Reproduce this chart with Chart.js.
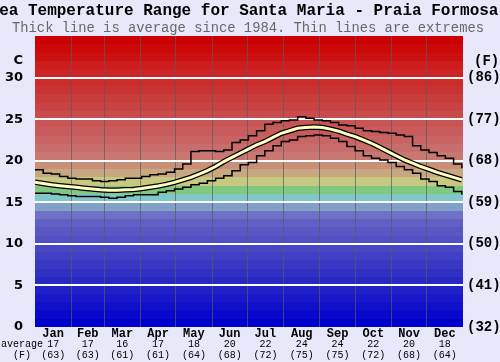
<!DOCTYPE html>
<html>
<head>
<meta charset="utf-8">
<script src="https://cdn.jsdelivr.net/npm/chart.js@4"></script>
<style>
  body { margin: 0; background: #e8e8fa; }
  #wrap { width: 500px; height: 362px; }
</style>
</head>
<body>
<div id="wrap"><canvas id="seaChart" width="500" height="362"></canvas></div>
<script>
// day of year for each weekly reading
const days = [0, 7, 14, 21, 28, 35, 42, 49, 56, 63, 70, 77, 84, 91, 98, 105, 112, 119, 126, 133, 140, 147, 154, 161, 168, 175, 182, 189, 196, 203, 210, 217, 224, 231, 238, 245, 252, 259, 266, 273, 280, 287, 294, 301, 308, 315, 322, 329, 336, 343, 350, 357, 364];
const avgTemp = [17.4, 17.25, 17.1, 17.0, 16.9, 16.8, 16.7, 16.6, 16.5, 16.45, 16.45, 16.5, 16.55, 16.65, 16.8, 16.95, 17.15, 17.4, 17.7, 18.0, 18.4, 18.8, 19.3, 19.9, 20.4, 20.9, 21.4, 21.9, 22.3, 22.8, 23.3, 23.6, 23.9, 24.0, 24.05, 24.0, 23.8, 23.55, 23.2, 22.9, 22.5, 22.1, 21.6, 21.1, 20.6, 20.1, 19.7, 19.3, 18.95, 18.6, 18.3, 18.0, 17.7];
const maxTemp = [18.9, 18.5, 18.4, 18.1, 17.9, 17.8, 17.8, 17.6, 17.5, 17.6, 17.7, 17.9, 17.9, 18.1, 18.3, 18.4, 18.6, 19.0, 19.6, 21.1, 21.2, 21.2, 21.1, 21.3, 22.2, 22.5, 23.0, 23.6, 24.4, 24.6, 24.8, 24.9, 25.3, 25.1, 24.9, 24.8, 24.6, 24.3, 24.2, 23.9, 23.6, 23.5, 23.4, 23.3, 23.1, 22.9, 21.8, 21.3, 21.0, 20.6, 20.3, 19.6, 19.1];
const minTemp = [16.1, 16.1, 16.0, 15.9, 15.8, 15.7, 15.7, 15.7, 15.6, 15.5, 15.6, 15.8, 15.9, 15.9, 15.9, 16.2, 16.4, 16.6, 16.8, 17.1, 17.3, 17.6, 17.9, 18.2, 18.8, 19.5, 19.8, 20.6, 21.2, 21.8, 22.3, 22.5, 22.9, 23.0, 23.1, 23.0, 22.7, 22.3, 21.7, 21.2, 20.6, 20.3, 20.1, 19.8, 19.3, 18.9, 18.5, 17.8, 17.5, 17.0, 16.8, 16.3, 15.9];

const months = ['Jan', 'Feb', 'Mar', 'Apr', 'May', 'Jun', 'Jul', 'Aug', 'Sep', 'Oct', 'Nov', 'Dec'];
const monthStart = [0, 31, 59, 90, 120, 151, 181, 212, 243, 273, 304, 334, 365];
const monthAvgC = [17, 17, 16, 17, 18, 20, 22, 24, 24, 22, 20, 18];
const monthAvgF = [63, 63, 61, 61, 64, 68, 72, 75, 75, 72, 68, 64];
const yTicks = [0, 5, 10, 15, 20, 25, 30];

// one colour per 1 degree band, 0 -> 35
const bandColors = ['#0000cc', '#0808cc', '#1010ca', '#1818c8', '#2020c8', '#2828c4', '#3030c4', '#3838c4', '#4040c4', '#4848c4',
  '#5050c4', '#5858c4', '#6060c4', '#7070c4', '#80a0c8', '#80c8c8', '#80c880', '#c8c880', '#c8a880', '#c89078',
  '#c87870', '#c86c6c', '#c86464', '#c85c5c', '#c85454', '#c84c4c', '#c84444', '#c83c3c', '#c83434', '#cc2c2c',
  '#cc2424', '#cc1c1c', '#cc1010', '#cc0808', '#cc0000'];

const pts = arr => arr.map((v, i) => ({ x: days[i], y: v }));

const bands = {
  id: 'bands',
  beforeDraw(chart) {
    const { ctx, chartArea: a, scales: { y } } = chart;
    ctx.save();
    bandColors.forEach((c, i) => {
      const top = Math.round(y.getPixelForValue(i + 1));
      const bot = Math.round(y.getPixelForValue(i));
      ctx.fillStyle = c;
      ctx.fillRect(a.left, top, a.right - a.left, bot - top);
    });
    ctx.restore();
  }
};

const texts = {
  id: 'texts',
  afterDraw(chart) {
    const { ctx, scales: { x } } = chart;
    ctx.save();
    ctx.textAlign = 'center';
    ctx.textBaseline = 'middle';
    ctx.fillStyle = '#000';
    ctx.font = 'bold 16px "Liberation Mono"';
    ctx.fillText('Sea Temperature Range for Santa Maria - Praia Formosa', 244, 11);
    ctx.fillStyle = '#686868';
    ctx.font = '13.8px "Liberation Mono"';
    ctx.fillText('Thick line is average since 1984. Thin lines are extremes', 248, 28);

    ctx.fillStyle = '#000';
    ctx.font = 'bold 13px "DejaVu Sans"';
    ctx.textAlign = 'right';
    ctx.fillText('C', 23, 61);
    ctx.font = 'bold 14px "Liberation Mono"';
    ctx.textAlign = 'left';
    ctx.fillText('(F)', 474, 61);

    ctx.textAlign = 'center';
    months.forEach((m, i) => {
      const cx = x.getPixelForValue((monthStart[i] + monthStart[i + 1]) / 2);
      ctx.font = 'bold 12px "Liberation Mono"';
      ctx.fillText(m, cx, 334);
      ctx.font = '10px "Liberation Mono"';
      ctx.fillText(String(monthAvgC[i]), cx, 344);
      ctx.fillText('(' + monthAvgF[i] + ')', cx, 355);
    });
    ctx.font = '10px "Liberation Mono"';
    ctx.fillText('average', 22, 344);
    ctx.fillText('(F)', 22, 355);
    ctx.restore();
  }
};

new Chart(document.getElementById('seaChart'), {
  type: 'line',
  data: {
    datasets: [
      { data: pts(avgTemp), borderColor: '#ffffc0', borderWidth: 3, order: 0 },
      { data: pts(avgTemp), borderColor: '#000000', borderWidth: 5.5, order: 1 },
      { data: pts(maxTemp), borderColor: '#000000', borderWidth: 1.5, stepped: true, order: 2 },
      { data: pts(minTemp), borderColor: '#000000', borderWidth: 1.5, stepped: true, order: 2 }
    ]
  },
  options: {
    responsive: false,
    animation: false,
    events: [],
    layout: { padding: { top: 36, left: 0, right: 0, bottom: 0 } },
    elements: { point: { radius: 0 }, line: { tension: 0 } },
    plugins: { legend: { display: false }, tooltip: { enabled: false } },
    scales: {
      x: {
        type: 'linear',
        min: 0,
        max: 365,
        afterBuildTicks: s => { s.ticks = monthStart.map(v => ({ value: v })); },
        afterFit: s => { s.height = 35; },
        ticks: { display: false },
        border: { display: false },
        grid: {
          drawTicks: false,
          color: c => (c.tick.value === 0 || c.tick.value === 365) ? 'rgba(0,0,0,0)' : 'rgba(90,90,90,0.7)',
          lineWidth: 1
        }
      },
      y: {
        position: 'left',
        min: 0,
        max: 35,
        afterBuildTicks: s => { s.ticks = yTicks.map(v => ({ value: v })); },
        afterFit: s => { s.width = 35; },
        border: { display: false },
        grid: {
          drawTicks: false,
          color: c => c.tick.value === 0 ? 'rgba(0,0,0,0)' : '#ffffff',
          lineWidth: 2
        },
        ticks: {
          color: '#000',
          padding: 12,
          font: { family: 'DejaVu Sans', size: 13, weight: 'bold' }
        }
      },
      y2: {
        position: 'right',
        min: 0,
        max: 35,
        afterBuildTicks: s => { s.ticks = yTicks.map(v => ({ value: v })); },
        afterFit: s => { s.width = 37; },
        border: { display: false },
        grid: { display: false, drawTicks: false },
        ticks: {
          color: '#000',
          padding: 4,
          font: { family: 'Liberation Mono', size: 14, weight: 'bold' },
          callback: v => '(' + Math.round(v * 9 / 5 + 32) + ')'
        }
      }
    }
  },
  plugins: [bands, texts]
});
</script>
</body>
</html>
